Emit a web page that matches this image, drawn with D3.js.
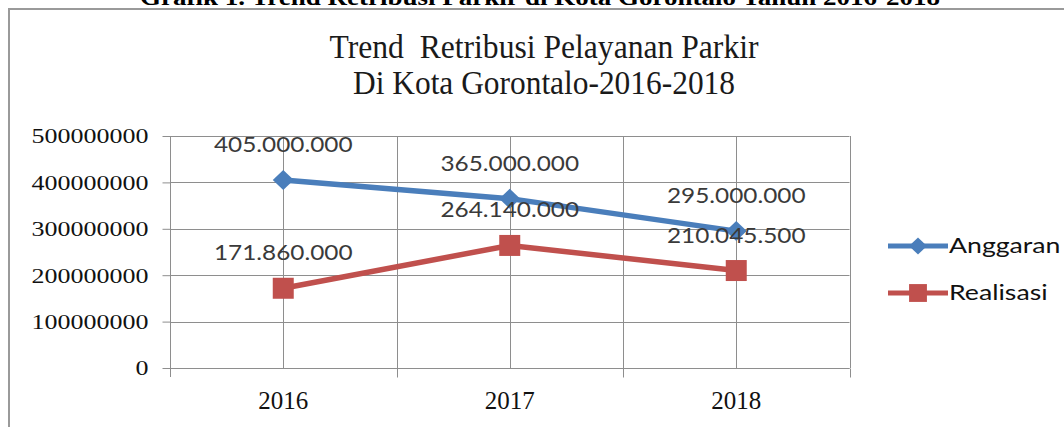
<!DOCTYPE html>
<html>
<head>
<meta charset="utf-8">
<script src="https://cdn.jsdelivr.net/npm/d3@7"></script>
<style>
  html, body { margin: 0; padding: 0; background: #fff; overflow: hidden; }
  svg { display: block; }
</style>
</head>
<body>
<svg id="chart" width="1064" height="427"></svg>
<script>
// chart values
const years = ["2016", "2017", "2018"];
const anggaran = [405000000, 365000000, 295000000];
const realisasi = [171860000, 264140000, 210045500];
const yTicks = [0, 100000000, 200000000, 300000000, 400000000, 500000000];
const seriesNames = ["Anggaran", "Realisasi"];

const width = 1064, height = 427;
const plot = { left: 170, right: 849.5, top: 136, bottom: 368 };
const blue = "#4a7ebb", red = "#c0504d";
const gridColor = "#8e8e8e";

const svg = d3.select("#chart");

// stretch text horizontally (the source picture is widened)
function stretch(sel, k) {
  sel.each(function () {
    const w = this.getComputedTextLength();
    d3.select(this).attr("textLength", w * k).attr("lengthAdjust", "spacingAndGlyphs");
  });
}

// caption cut off at the top of the page
svg.append("text")
  .attr("x", 540).attr("y", 5)
  .attr("text-anchor", "middle")
  .style("font-family", "'Liberation Serif', serif")
  .style("font-weight", "bold")
  .style("font-size", "24px")
  .attr("textLength", 800).attr("lengthAdjust", "spacingAndGlyphs")
  .text("Grafik 1. Trend Retribusi Parkir di Kota Gorontalo Tahun 2016-2018");

// chart frame
svg.append("rect")
  .attr("x", 9).attr("y", 9)
  .attr("width", 1080).attr("height", 440)
  .attr("fill", "none")
  .attr("stroke", "#9a9a9a")
  .attr("stroke-width", 2);

// title
const titleLines = [
  { t: "Trend  Retribusi Pelayanan Parkir", y: 58, w: 429 },
  { t: "Di Kota Gorontalo-2016-2018", y: 94, w: 382 }
];
svg.selectAll(".title").data(titleLines).enter().append("text")
  .attr("class", "title")
  .attr("x", 544).attr("y", d => d.y)
  .attr("text-anchor", "middle")
  .style("white-space", "pre")
  .style("font-family", "'Liberation Serif', serif")
  .style("font-size", "34px")
  .style("fill", "#1a1a1a")
  .attr("textLength", d => d.w).attr("lengthAdjust", "spacingAndGlyphs")
  .text(d => d.t);

// scales
const x = d3.scaleBand().domain(years).range([plot.left, plot.right]).padding(0);
const cx = d => x(d) + x.bandwidth() / 2;
const y = d3.scaleLinear().domain([0, 500000000]).range([plot.bottom, plot.top]);

const grid = svg.append("g");
// horizontal gridlines
grid.selectAll(".hg").data(yTicks).enter().append("line")
  .attr("x1", plot.left).attr("x2", plot.right)
  .attr("y1", d => Math.round(y(d)) + 0.5).attr("y2", d => Math.round(y(d)) + 0.5)
  .attr("stroke", gridColor).attr("stroke-width", 1);
// vertical gridlines: category centres and boundaries
const vPos = years.map(cx).concat(years.map(d => x(d) + x.bandwidth()));
grid.selectAll(".vg").data(vPos).enter().append("line")
  .attr("x1", d => Math.round(d) + 0.5).attr("x2", d => Math.round(d) + 0.5)
  .attr("y1", plot.top).attr("y2", plot.bottom)
  .attr("stroke", gridColor).attr("stroke-width", 1);

// y axis
const yAxis = svg.append("g")
  .attr("transform", `translate(${plot.left + 0.5},0)`)
  .call(d3.axisLeft(y).tickValues(yTicks).tickSize(8).tickPadding(14).tickFormat(d3.format("d")));
yAxis.select(".domain").attr("d", `M0,${plot.top}V${plot.bottom + 9}`).attr("stroke", gridColor);
yAxis.selectAll(".tick line").attr("stroke", gridColor);
yAxis.selectAll("text")
  .style("font-family", "'Liberation Serif', serif")
  .style("font-size", "20px")
  .style("fill", "#111")
  .attr("dy", "0.34em")
  .call(stretch, 1.3);

// x axis
const xAxis = svg.append("g")
  .attr("transform", `translate(0,${Math.round(plot.bottom) + 0.5})`)
  .call(d3.axisBottom(x).tickSize(0).tickPadding(23));
xAxis.select(".domain").attr("d", `M${plot.left},0H${plot.right}`).attr("stroke", gridColor);
xAxis.selectAll("text")
  .style("font-family", "'Liberation Serif', serif")
  .style("font-size", "25px")
  .style("fill", "#111");
// boundary tick marks below the axis
xAxis.selectAll(".btick").data(years).enter().append("line")
  .attr("x1", d => Math.round(x(d) + x.bandwidth()) + 0.5)
  .attr("x2", d => Math.round(x(d) + x.bandwidth()) + 0.5)
  .attr("y1", 0).attr("y2", 9)
  .attr("stroke", gridColor);

// series
const series = [
  { name: seriesNames[0], values: anggaran, color: blue, marker: "diamond" },
  { name: seriesNames[1], values: realisasi, color: red, marker: "square" }
];
const line = d3.line().x((d, i) => cx(years[i])).y(d => y(d));
const diamond = "M0,-10L10.5,0L0,10L-10.5,0Z";
const square = "M-10.5,-10.5H10.5V10.5H-10.5Z";
const fmt = d3.formatLocale({ decimal: ",", thousands: ".", grouping: [3], currency: ["", ""] }).format(",");

series.forEach(s => {
  svg.append("path")
    .datum(s.values)
    .attr("d", line)
    .attr("fill", "none")
    .attr("stroke", s.color)
    .attr("stroke-width", 5.5)
    .attr("stroke-linejoin", "round");
  svg.selectAll(null).data(s.values).enter().append("path")
    .attr("transform", (d, i) => `translate(${cx(years[i])},${y(d)})`)
    .attr("d", s.marker === "diamond" ? diamond : square)
    .attr("fill", s.color);
});

// data labels
series.forEach(s => {
  svg.selectAll(null).data(s.values).enter().append("text")
    .attr("x", (d, i) => cx(years[i]))
    .attr("y", d => y(d) - 28)
    .attr("text-anchor", "middle")
    .style("font-family", "Lato, sans-serif")
    .style("font-size", "21px")
    .style("fill", "#3a3a3a")
    .text(d => fmt(d))
    .call(stretch, 1.16);
});

// legend
const legend = svg.append("g").attr("transform", "translate(888,0)");
const legY = [246, 293];
series.forEach((s, i) => {
  const g = legend.append("g").attr("transform", `translate(0,${legY[i]})`);
  g.append("line").attr("x1", 0).attr("x2", 60).attr("y1", 0).attr("y2", 0)
    .attr("stroke", s.color).attr("stroke-width", 5);
  g.append("path").attr("transform", "translate(30,0) scale(0.85)")
    .attr("d", s.marker === "diamond" ? diamond : square)
    .attr("fill", s.color);
  g.append("text").attr("x", 61).attr("y", 7)
    .style("font-family", "Lato, sans-serif")
    .style("font-size", "21px")
    .style("fill", "#111")
    .text(s.name)
    .call(stretch, 1.27);
});
</script>
</body>
</html>
